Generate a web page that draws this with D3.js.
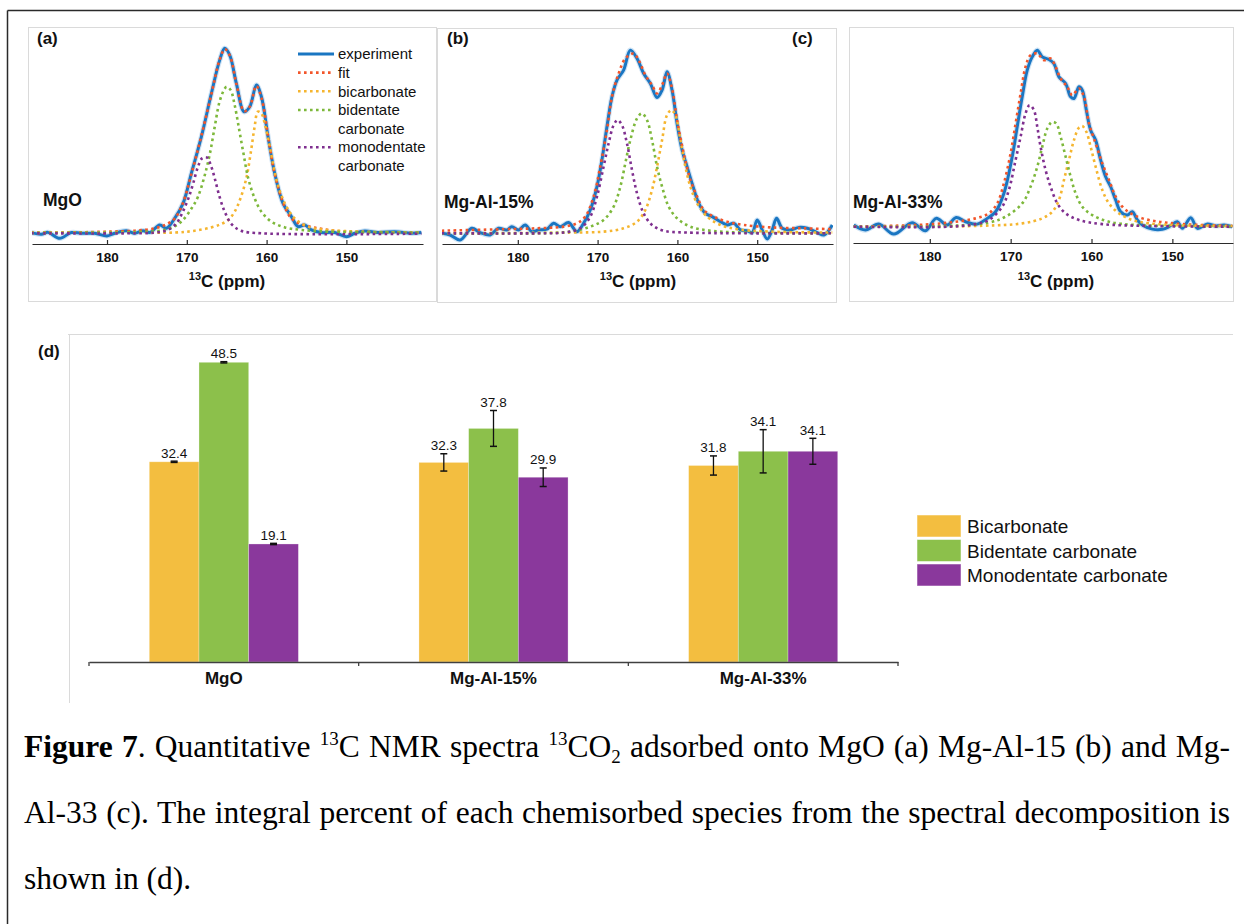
<!DOCTYPE html>
<html><head><meta charset="utf-8">
<script src="https://cdn.jsdelivr.net/npm/d3@7"></script>
<style>body{margin:0;background:#fff}svg{display:block}</style>
</head><body>
<svg id="fig" width="1244" height="924"></svg>
<script>
// ---------------- DATA ----------------
const ppmTicks = [180, 170, 160, 150];
const sampleNames = ["MgO", "Mg-Al-15%", "Mg-Al-33%"];
const panelLetters = ["(a)", "(b)", "(c)"];
const xDomains = [[189.4, 140.4], [189.5, 140.5], [189.5, 142.5]];
const specLegend = ["experiment", "fit", "bicarbonate", "bidentate carbonate", "monodentate carbonate"];

// Panel (a) MgO: [ppm, intensity a.u.]
const expA = [[189.49,0.4],[188.23,-0.5],[187.40,0.5],[185.93,-2.7],[184.47,0.4],[183.22,0],[181.55,0],[180.0,-1.4],[179.04,0],[177.58,1.4],[176.53,0],[175.49,1.4],[174.65,0.4],[173.40,4.5],[172.56,2.7],[171.52,8.1],[170.47,16.2],[169.43,32.4],[168.17,52.2],[166.92,75.6],[165.88,93.6],[165.25,100],[164.62,96.3],[163.79,81],[162.82,65.7],[162.11,68.4],[161.28,80.1],[160.65,73.8],[159.82,52.2],[158.98,32.4],[157.94,16.2],[156.89,9],[156.06,3.6],[155.22,4.5],[154.38,1.8],[153.13,0.4],[151.46,0.4],[150.0,-1.8],[148.95,0],[147.70,1.3],[146.03,0.4],[143.94,0.9],[141.85,0],[140.6,0.4]];
const fitA = [[189.5,0.4],[184,0.5],[180,0.9],[176.5,1.4],[174,2.7],[172.5,5],[171.5,8.1],[170.5,16.2],[169.4,32.4],[168.2,52.2],[166.9,75.6],[165.9,93.6],[165.25,99.5],[164.6,96],[163.8,81],[162.8,66],[162.1,68.6],[161.3,79.6],[160.65,73.4],[159.8,52.2],[159.0,32.4],[157.9,16.2],[156.9,8.1],[155.7,5],[154,3.1],[151.5,1.4],[148,0.7],[144,0.4],[140.6,0.4]];
const bicA = [[189.5,0.2],[177.4,0.4],[171.5,0.4],[169.0,1.4],[166.9,3.2],[165.7,5.0],[164.8,7.2],[164.0,11.7],[163.2,19.8],[162.5,30.6],[162.0,43.2],[161.5,57.6],[161.1,65.7],[160.65,64.8],[160.15,57.6],[159.6,46.8],[159.0,33.3],[158.4,23.4],[157.5,14.4],[156.5,8.1],[154.8,3.6],[152.3,1.8],[148.1,0.9],[140.6,0.4]];
const bidA = [[189.5,0.2],[181.5,0.4],[176.1,0.7],[172.4,2.2],[170.7,6.3],[169.4,13.5],[168.6,19.8],[167.8,30.6],[167.1,43.2],[166.5,57.6],[165.9,71.1],[165.3,77.8],[165.0,79.2],[164.5,77.4],[164.0,69.3],[163.5,57.6],[162.9,43.2],[162.3,29.7],[161.5,18.9],[160.65,11.7],[159.4,6.3],[157.7,3.2],[155.6,1.8],[152.3,0.9],[140.6,0.4]];
const monA = [[189.5,0],[177.4,0],[174.0,0.4],[172.4,1.8],[171.3,5.4],[170.5,11.7],[169.8,18.9],[169.2,27],[168.6,36],[168.1,40.5],[167.5,41],[167.0,36.9],[166.5,29.7],[165.9,19.8],[165.25,11.7],[164.4,5.0],[163.2,1.4],[160.65,0],[140.6,-0.2]];

// Panel (b) Mg-Al-15%
const expB = [[189.54,0],[188.49,-0.9],[187.24,-3.6],[185.77,2.7],[184.73,0.4],[183.47,-0.9],[182.43,2.7],[181.38,1.8],[180.75,3.6],[179.92,1.8],[179.08,4.5],[178.24,0.9],[177.41,1.8],[176.36,2.2],[175.52,5.4],[174.69,3.6],[173.64,5.8],[172.59,0.9],[171.76,5.4],[170.92,12.6],[170.08,25.2],[169.46,39.6],[168.83,57.6],[168.20,73.8],[167.57,82.8],[166.74,88.2],[165.90,99],[165.06,94.5],[164.23,86.4],[163.39,81],[162.55,73.4],[161.92,77.4],[161.30,87.3],[160.67,77.4],[160.04,59.4],[159.41,45],[158.79,36],[158.16,27],[157.32,16.2],[156.49,10.8],[155.65,9],[154.60,6.3],[153.77,4.5],[152.93,5.4],[152.09,1.8],[151.26,1.4],[150.63,0.4],[150.00,7.2],[149.37,1.8],[148.74,-3.1],[148.12,1.8],[147.57,8.1],[146.86,2.7],[145.82,1.8],[144.77,3.2],[143.72,2.7],[142.47,0.4],[141.63,-0.9],[140.59,4.5]];
const fitB = [[189.54,1.4],[181.80,2.2],[177.62,2.7],[174.27,3.6],[172.59,5.4],[171.55,9],[170.50,19.8],[169.67,36],[168.83,55.8],[168.20,73.8],[167.36,86.4],[166.53,94.5],[165.48,97.2],[164.85,93.6],[164.02,85.5],[163.18,80.1],[162.55,75.6],[161.92,80.1],[161.30,86.4],[160.67,78.3],[160.04,61.2],[159.21,43.2],[158.37,28.8],[157.53,19.8],[156.69,12.6],[155.44,9],[153.77,6.3],[151.67,4.5],[148.33,3.2],[144.14,2.7],[140.59,2.2]];
const bicB = [[189.54,0],[173.43,0.4],[169.25,0.9],[166.74,2.7],[165.06,6.3],[164.02,12.6],[163.18,23.4],[162.55,36],[161.92,50.4],[161.30,63.9],[160.75,66.6],[160.25,63.9],[159.62,50.4],[159.00,36],[158.37,25.2],[157.53,16.2],[156.28,9],[154.60,4.5],[152.51,2.2],[148.33,0.9],[140.59,0.4]];
const bidB = [[189.54,0],[177.62,0],[173.43,0.9],[170.92,3.6],[169.25,7.2],[167.99,14.4],[167.15,25.2],[166.53,37.8],[165.90,50.4],[165.06,62.1],[164.44,64.8],[163.81,61.2],[163.18,50.4],[162.55,36],[161.92,25.2],[161.09,14.4],[160.04,8.1],[158.37,3.6],[155.86,1.4],[152.51,0.5],[140.59,0]];
const monB = [[189.54,0],[177.62,0],[174.27,0.4],[172.18,2.7],[170.92,9],[170.08,19.8],[169.25,36],[168.62,48.6],[167.99,58.5],[167.49,61.2],[166.95,58.5],[166.32,48.6],[165.69,34.2],[165.06,21.6],[164.23,10.8],[163.18,4.5],[161.72,1.4],[158.79,0.4],[140.59,0]];

// Panel (c) Mg-Al-33%
const expC = [[189.41,0.9],[187.97,-1.8],[186.31,1.4],[184.46,-4],[182.19,2.2],[180.54,-2.2],[179.22,4.5],[177.85,0.9],[176.74,5.0],[175.58,2.7],[174.14,1.4],[172.90,4.5],[171.87,8.1],[170.84,18],[169.81,37.8],[169.19,54],[168.57,70.2],[167.95,84.6],[167.33,91.8],[166.71,95.4],[166.09,91.8],[165.27,90.4],[164.65,88.2],[164.03,81],[163.20,77.4],[162.58,70.2],[162.17,69.3],[161.55,75.6],[161.14,73.8],[160.64,63],[160.11,52.2],[159.49,46.8],[158.87,36],[158.25,27],[157.63,21.6],[157.01,14.4],[156.39,8.1],[155.57,6.3],[154.95,8.1],[154.33,3.6],[153.71,0.9],[152.47,-1.3],[151.23,-1.4],[150.41,0],[149.38,2.7],[148.76,-0.9],[147.73,4.9],[146.90,-0.9],[145.66,1.4],[144.63,0.4],[143.60,0.9],[142.57,0]];
const fitC = [[189.41,0],[181.77,0.9],[177.65,2.2],[174.35,4.5],[172.70,7.2],[171.66,12.6],[170.84,23.4],[170.01,39.6],[169.39,55.8],[168.77,72],[168.16,86.4],[167.54,92.7],[166.71,93.6],[165.89,90],[165.06,90.9],[164.44,86.4],[163.82,80.1],[163.00,75.6],[162.38,71.1],[161.55,74.7],[160.93,70.2],[160.31,55.8],[159.49,45],[158.66,34.2],[157.84,25.2],[157.01,16.2],[156.19,10.8],[155.15,7.2],[153.71,4.5],[151.65,2.7],[148.76,1.4],[142.57,0.4]];
const bicC = [[189.41,0],[173.52,0.5],[168.57,1.8],[166.09,4.5],[164.85,8.1],[164.03,14.4],[163.41,25.2],[162.79,36],[162.17,46.8],[161.55,53.6],[161.14,54.4],[160.64,51.3],[160.11,43.2],[159.49,32.4],[158.66,19.8],[157.84,12.6],[156.60,7.2],[154.95,3.6],[152.89,1.8],[148.76,0.7],[142.57,0.4]];
const bidC = [[189.41,0],[177.65,0.4],[172.70,2.2],[170.63,5.4],[168.57,12.6],[167.54,21.6],[166.71,32.4],[166.09,43.2],[165.47,53.1],[164.85,56.7],[164.36,55.8],[163.82,48.6],[163.20,37.8],[162.58,27],[161.96,18],[161.14,10.8],[159.90,6.3],[157.84,2.7],[154.54,0.9],[148.76,0.4],[142.57,0]];
const monC = [[189.41,0],[177.65,0],[174.35,1.4],[172.70,3.6],[171.04,10.8],[170.22,19.8],[169.39,36],[168.77,48.6],[168.16,61.2],[167.66,65.7],[167.12,63],[166.71,54],[166.30,43.2],[165.68,30.6],[165.06,21.6],[164.23,12.6],[163.20,7.2],[161.55,3.6],[158.66,1.4],[152.89,0.4],[142.57,0]];

// Panel (d) bar chart
const barCats = ["MgO", "Mg-Al-15%", "Mg-Al-33%"];
const barSeries = ["Bicarbonate", "Bidentate carbonate", "Monodentate carbonate"];
const bicVals = [32.4, 32.3, 31.8];
const bicErr  = [0.1, 1.4, 1.55];
const bidVals = [48.5, 37.8, 34.1];
const bidErr  = [0.1, 2.9, 3.5];
const monVals = [19.1, 29.9, 34.1];
const monErr  = [0.1, 1.5, 2.1];

// Caption
const captionLines = [
  [{t:"Figure 7", b:true}, {t:". Quantitative "}, {t:"13", sup:true}, {t:"C NMR spectra "}, {t:"13", sup:true}, {t:"CO"}, {t:"2", sub:true}, {t:" adsorbed onto MgO (a) Mg-Al-15 (b) and Mg-"}],
  [{t:"Al-33 (c). The integral percent of each chemisorbed species from the spectral decomposition is"}],
  [{t:"shown in (d)."}]
];

// ---------------- DRAW ----------------
const svg = d3.select("#fig");
const sans = "'Liberation Sans', Arial, Helvetica, sans-serif";
const serif = "'Liberation Serif', 'Times New Roman', serif";
const frameGrey = "#dadada";

// outer frame
svg.append("line").attr("x1", 7.5).attr("y1", 10.5).attr("x2", 1244).attr("y2", 10.5)
  .attr("stroke", "#2a2a2a").attr("stroke-width", 1.5);
svg.append("line").attr("x1", 7.5).attr("y1", 10.5).attr("x2", 7.5).attr("y2", 924)
  .attr("stroke", "#2a2a2a").attr("stroke-width", 1.5);

const spectra = [
  {exp: expA, fit: fitA, bic: bicA, bid: bidA, mon: monA},
  {exp: expB, fit: fitB, bic: bicB, bid: bidB, mon: monB},
  {exp: expC, fit: fitC, bic: bicC, bid: bidC, mon: monC}
];
const specKeys = ["exp", "fit", "bic", "bid", "mon"];
const specColors = {exp: "#1a76c2", fit: "#f2552a", bic: "#f5b52f", bid: "#7db83b", mon: "#7f2f8f"};

const layout = [
  {fx0: 28.5, fy0: 27.5, fx1: 436.5, fy1: 301.5, xr: [32, 423], y0: 233.3, axisY: 244, nameX: 43, nameY: 206, labelX: 227},
  {fx0: 437.5, fy0: 28.5, fx1: 836.5, fy1: 302.5, xr: [442, 833], y0: 233.3, axisY: 244, nameX: 444, nameY: 208, labelX: 638},
  {fx0: 849.5, fy0: 27.5, fx1: 1233.5, fy1: 301.5, xr: [853, 1233], y0: 226.7, axisY: 243, nameX: 853, nameY: 208, labelX: 1056}
];
const letterPos = [[37, 44], [447, 44], [792, 44]];

spectra.forEach((sp, i) => {
  const L = layout[i];
  const g = svg.append("g");
  g.append("rect").attr("x", L.fx0).attr("y", L.fy0).attr("width", L.fx1 - L.fx0).attr("height", L.fy1 - L.fy0)
    .attr("fill", "none").attr("stroke", frameGrey).attr("stroke-width", 1);

  const x = d3.scaleLinear().domain(xDomains[i]).range(L.xr);
  const y = d3.scaleLinear().domain([0, 100]).range([L.y0, L.y0 - 185]);

  const clipId = "clip" + i;
  svg.append("clipPath").attr("id", clipId).append("rect")
    .attr("x", L.xr[0]).attr("y", L.fy0).attr("width", L.xr[1] - L.xr[0]).attr("height", L.axisY - L.fy0 - 1);

  const line = d3.line().x(d => x(d[0])).y(d => y(d[1])).curve(d3.curveCatmullRom.alpha(0.5));
  const pg = g.append("g").attr("clip-path", `url(#${clipId})`);

  // experiment halo + line
  pg.append("path").attr("d", line(sp.exp)).attr("fill", "none").attr("stroke", "#9ec8ec")
    .attr("stroke-width", 5.2).attr("stroke-opacity", 0.5).attr("stroke-linejoin", "round");
  pg.append("path").attr("d", line(sp.exp)).attr("fill", "none").attr("stroke", specColors.exp)
    .attr("stroke-width", 3).attr("stroke-linejoin", "round");
  ["fit", "bic", "bid", "mon"].forEach(k => {
    pg.append("path").attr("d", line(sp[k])).attr("fill", "none").attr("stroke", specColors[k])
      .attr("stroke-width", 2.6).attr("stroke-dasharray", "2.6 3.4");
  });

  // axis
  const ax = g.append("g").attr("transform", `translate(0,${L.axisY})`)
    .call(d3.axisBottom(x).tickValues(ppmTicks).tickSizeInner(-4).tickSizeOuter(0).tickPadding(8));
  ax.select(".domain").attr("stroke", "#2b2b2b").attr("stroke-width", 1.2);
  ax.selectAll(".tick line").attr("stroke", "#2b2b2b").attr("stroke-width", 1.2);
  ax.selectAll(".tick text").attr("font-family", sans).attr("font-weight", "bold").attr("font-size", 13.5).attr("fill", "#111");

  // x label
  const xl = g.append("text").attr("x", L.labelX).attr("y", 287).attr("text-anchor", "middle")
    .attr("font-family", sans).attr("font-weight", "bold").attr("fill", "#111");
  xl.append("tspan").attr("font-size", 11).attr("dy", -7).text("13");
  xl.append("tspan").attr("font-size", 17).attr("dy", 7).text("C (ppm)");

  // sample name
  g.append("text").attr("x", L.nameX).attr("y", L.nameY).attr("font-family", sans).attr("font-weight", "bold")
    .attr("font-size", 17.5).attr("fill", "#111").text(sampleNames[i]);
  // panel letter
  g.append("text").attr("x", letterPos[i][0]).attr("y", letterPos[i][1]).attr("font-family", sans)
    .attr("font-weight", "bold").attr("font-size", 17).attr("fill", "#111").text(panelLetters[i]);
});

// legend of spectra (in panel a)
{
  const lg = svg.append("g");
  let row = 0;
  const rowY = r => 54 + r * 18.65;
  specLegend.forEach((lab, i) => {
    const k = specKeys[i];
    const yy = rowY(row);
    const ln = lg.append("line").attr("x1", 298).attr("x2", 334).attr("y1", yy).attr("y2", yy)
      .attr("stroke", specColors[k]);
    if (k === "exp") ln.attr("stroke-width", 2.8);
    else ln.attr("stroke-width", 2.6).attr("stroke-dasharray", "2.6 3.4");
    lab.split(" ").forEach(w => {
      lg.append("text").attr("x", 338).attr("y", rowY(row) + 5.2).attr("font-family", sans)
        .attr("font-size", 15).attr("fill", "#111").text(w);
      row++;
    });
  });
}

// ---------------- Bar chart (d) ----------------
{
  const g = svg.append("g");
  g.append("line").attr("x1", 68).attr("x2", 1233).attr("y1", 334.5).attr("y2", 334.5).attr("stroke", frameGrey);
  g.append("line").attr("x1", 69.5).attr("x2", 69.5).attr("y1", 334.5).attr("y2", 703).attr("stroke", frameGrey);
  g.append("text").attr("x", 38).attr("y", 357).attr("font-family", sans).attr("font-weight", "bold")
    .attr("font-size", 17).attr("fill", "#111").text("(d)");

  const x0 = d3.scaleBand().domain(barCats).range([89, 898]).padding(0);
  const x1 = d3.scaleBand().domain(barSeries).range([0, x0.bandwidth()]).paddingInner(0).paddingOuter(1.213);
  const y = d3.scaleLinear().domain([0, 53]).range([662, 334.5]);
  const barColors = ["#f3be40", "#8cc04b", "#8a389c"];
  const seriesData = [
    {name: barSeries[0], vals: bicVals, errs: bicErr},
    {name: barSeries[1], vals: bidVals, errs: bidErr},
    {name: barSeries[2], vals: monVals, errs: monErr}
  ];

  seriesData.forEach((s, si) => {
    barCats.forEach((c, ci) => {
      const v = s.vals[ci], e = s.errs[ci];
      const bx = x0(c) + x1(s.name), bw = x1.bandwidth(), cx = bx + bw / 2;
      g.append("rect").attr("x", bx).attr("y", y(v)).attr("width", bw).attr("height", y(0) - y(v))
        .attr("fill", barColors[si]).attr("stroke", "#ffffff").attr("stroke-opacity", 0.35).attr("stroke-width", 0.8);
      const yt = y(v + e), yb = y(v - e);
      g.append("line").attr("x1", cx).attr("x2", cx).attr("y1", yt).attr("y2", yb).attr("stroke", "#111").attr("stroke-width", 1.3);
      [yt, yb].forEach(yy => g.append("line").attr("x1", cx - 3.5).attr("x2", cx + 3.5).attr("y1", yy).attr("y2", yy)
        .attr("stroke", "#111").attr("stroke-width", 1.5));
      g.append("text").attr("x", cx).attr("y", yt - 3.5).attr("text-anchor", "middle").attr("font-family", sans)
        .attr("font-size", 13.5).attr("fill", "#111").text(v.toFixed(1));
    });
  });

  const ax = g.append("g").attr("transform", "translate(0,662)")
    .call(d3.axisBottom(x0).tickSize(0).tickPadding(10));
  ax.select(".domain").attr("stroke", "#404040").attr("stroke-width", 1.5);
  ax.selectAll(".tick text").attr("font-family", sans).attr("font-weight", "bold").attr("font-size", 17).attr("fill", "#111");
  const edges = barCats.map(c => x0(c)).concat([x0.range()[1]]);
  edges.forEach(ex => g.append("line").attr("x1", ex).attr("x2", ex).attr("y1", 662).attr("y2", 666)
    .attr("stroke", "#404040").attr("stroke-width", 1.3));

  // legend
  const legY = [515, 539.5, 564];
  barSeries.forEach((s, i) => {
    g.append("rect").attr("x", 917).attr("y", legY[i]).attr("width", 44).attr("height", 22)
      .attr("fill", barColors[i]).attr("stroke", "#ffffff").attr("stroke-opacity", 0.5);
    g.append("text").attr("x", 967).attr("y", legY[i] + 18.3).attr("font-family", sans).attr("font-size", 19)
      .attr("fill", "#111").text(s);
  });
}

// ---------------- Caption ----------------
{
  const baselines = [757, 823, 889];
  const fs = 31.5;
  captionLines.forEach((parts, li) => {
    const t = svg.append("text").attr("x", 24).attr("y", baselines[li]).attr("font-family", serif)
      .attr("font-size", fs).attr("fill", "#000").style("white-space", "pre");
    let prev = 0;
    parts.forEach(p => {
      const off = p.sup ? -12 : (p.sub ? 6 : 0);
      const ts = t.append("tspan").attr("dy", off - prev).text(p.t);
      if (p.sup || p.sub) ts.attr("font-size", 19);
      if (p.b) ts.attr("font-weight", "bold");
      prev = off;
    });
    if (li < 2) {
      const w = t.node().getComputedTextLength();
      const spaces = parts.map(p => p.t).join("").split(" ").length - 1;
      const target = 1206;
      if (spaces > 0) t.attr("word-spacing", (target - w) / spaces);
    }
  });
}
</script>
</body></html>
